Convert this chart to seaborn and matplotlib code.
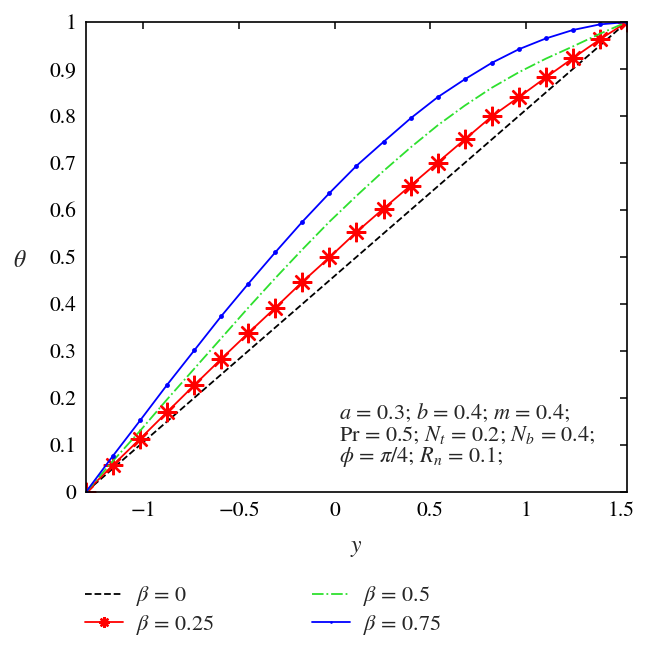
import numpy as np
import pandas as pd
import seaborn as sns
import matplotlib.pyplot as plt

# y positions (21 points across the channel)
y_pts = [-1.3, -1.1585, -1.017, -0.8755, -0.734, -0.5925, -0.451, -0.3095,
         -0.168, -0.0265, 0.115, 0.2565, 0.398, 0.5395, 0.681, 0.8225,
         0.964, 1.1055, 1.247, 1.3885, 1.53]

theta_b0 = [0.0, 0.05, 0.1, 0.15, 0.2, 0.25, 0.3, 0.35, 0.4, 0.45, 0.5,
            0.55, 0.6, 0.65, 0.7, 0.75, 0.8, 0.85, 0.9, 0.95, 1.0]
theta_b025 = [0.0, 0.057, 0.113, 0.170, 0.227, 0.283, 0.338, 0.392, 0.447,
              0.499, 0.553, 0.603, 0.652, 0.701, 0.750, 0.799, 0.840, 0.882,
              0.923, 0.963, 1.0]
theta_b05 = [0.0, 0.066, 0.130, 0.197, 0.262, 0.327, 0.392, 0.455, 0.516,
             0.575, 0.630, 0.683, 0.733, 0.780, 0.822, 0.860, 0.893, 0.922,
             0.948, 0.975, 1.0]
theta_b075 = [0.0, 0.077, 0.152, 0.228, 0.301, 0.374, 0.443, 0.510, 0.575,
              0.636, 0.694, 0.745, 0.795, 0.840, 0.878, 0.913, 0.942, 0.965,
              0.983, 0.995, 1.0]

x_ticks = [-1, -0.5, 0, 0.5, 1, 1.5]
x_labels = ["\u22121", "\u22120.5", "0", "0.5", "1", "1.5"]
y_ticks = [0, 0.1, 0.2, 0.3, 0.4, 0.5, 0.6, 0.7, 0.8, 0.9, 1.0]
y_labels = ["0", "0.1", "0.2", "0.3", "0.4", "0.5", "0.6", "0.7", "0.8", "0.9", "1"]

sns.set_theme(style="white")
plt.rcParams["font.family"] = ["STIXGeneral", "DejaVu Serif"]
plt.rcParams["mathtext.fontset"] = "stix"

fig = plt.figure(figsize=(6.47, 6.48), dpi=100)
ax = fig.add_axes([0.133, 0.241, 0.836, 0.725])

sns.lineplot(x=y_pts, y=theta_b0, ax=ax, color="black", linestyle="--",
             linewidth=1.3, label=r"$\beta$ = 0")
sns.lineplot(x=y_pts, y=theta_b025, ax=ax, color="red", linewidth=1.3,
             marker=(8, 2, 0), markersize=14, markeredgewidth=1.7,
             markeredgecolor="red", label=r"$\beta$ = 0.25")
sns.lineplot(x=y_pts, y=theta_b05, ax=ax, color="#2ee02e", linestyle="-.",
             linewidth=1.3, label=r"$\beta$ = 0.5")
sns.lineplot(x=y_pts, y=theta_b075, ax=ax, color="blue", linewidth=1.3,
             marker="o", markersize=3.5, markeredgewidth=0, label=r"$\beta$ = 0.75")

ax.set_xlim(-1.3, 1.53)
ax.set_ylim(0, 1)
ax.set_xticks(x_ticks)
ax.set_xticklabels(x_labels)
ax.set_yticks(y_ticks)
ax.set_yticklabels(y_labels)
ax.tick_params(axis="both", which="both", direction="in", top=True, right=True,
               length=5, width=1.1, labelsize=15.5, colors="black", pad=7)
for s in ax.spines.values():
    s.set_color("black")
    s.set_linewidth(1.2)

ax.set_xlabel(r"$y$", fontsize=17, labelpad=12)
ax.set_ylabel(r"$\theta$", fontsize=17, rotation=0, va="center", ha="center")
ax.yaxis.set_label_coords(-0.122, 0.49)

note_kw = dict(fontsize=16, va="center", ha="left")
ax.text(0.025, 0.168, r"$a$ = 0.3; $b$ = 0.4; $m$ = 0.4;", **note_kw)
ax.text(0.025, 0.121, r"Pr = 0.5; $N_t$ = 0.2; $N_b$ = 0.4;", **note_kw)
ax.text(0.025, 0.074, r"$\phi$ = $\pi$/4; $R_n$ = 0.1;", **note_kw)

handles, labels = ax.get_legend_handles_labels()
ax.legend_.remove()
fig.legend(handles, labels, ncol=2, loc="upper left",
           bbox_to_anchor=(0.131, 0.098), frameon=False, fontsize=16,
           borderpad=0, borderaxespad=0,
           handlelength=1.7, handletextpad=0.6, columnspacing=4.4,
           labelspacing=0.2, markerscale=0.55)

fig.savefig("out.png", dpi=100)
